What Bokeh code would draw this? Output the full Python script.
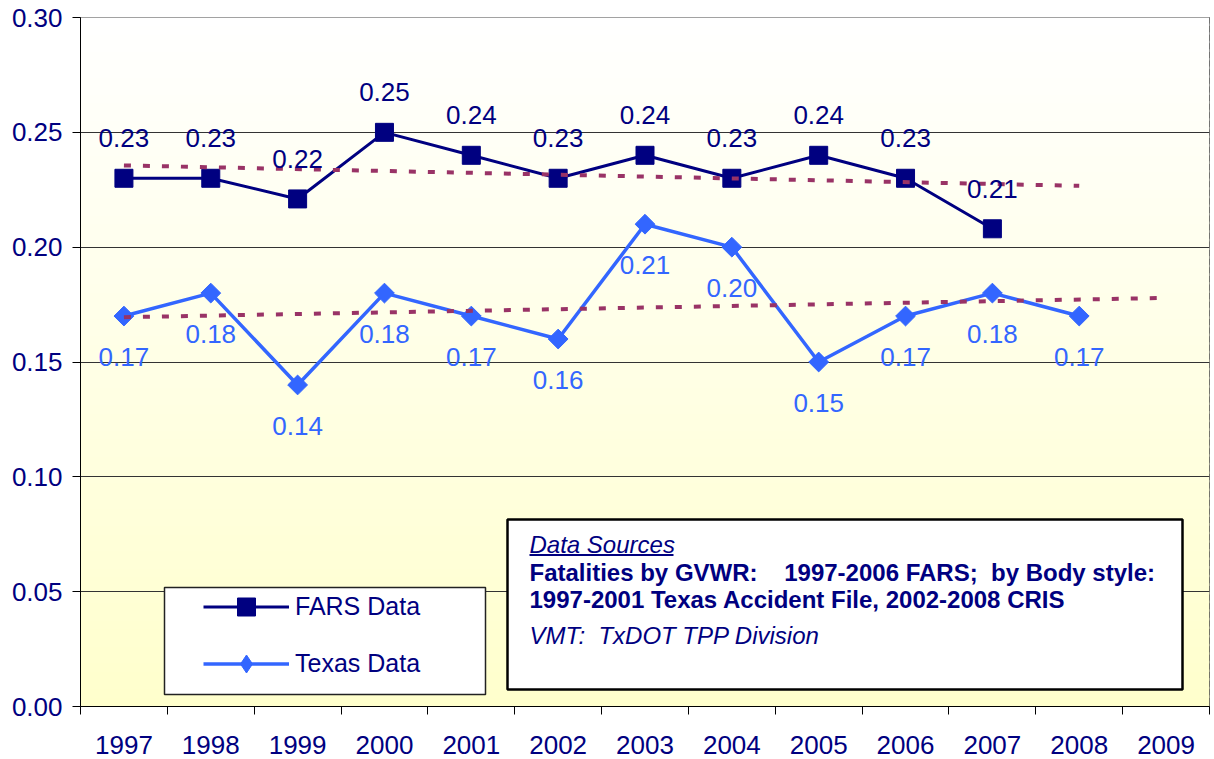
import numpy as np
from bokeh.plotting import figure
from bokeh.models import (FixedTicker, NumeralTickFormatter, BasicTickFormatter, Legend,
                          LegendItem, BoxAnnotation, Label, LabelSet, ColumnDataSource, Range1d)
from bokeh.core.properties import value
from bokeh.embed import file_html
from bokeh.resources import INLINE

# ---------------- data ----------------
years = [1997, 1998, 1999, 2000, 2001, 2002, 2003, 2004, 2005, 2006, 2007, 2008, 2009]
year_labels = [str(y) for y in years]
y_ticks = [0.00, 0.05, 0.10, 0.15, 0.20, 0.25, 0.30]

fars_years = [1997, 1998, 1999, 2000, 2001, 2002, 2003, 2004, 2005, 2006, 2007]
fars_values = [0.23, 0.23, 0.221, 0.25, 0.24, 0.23, 0.24, 0.23, 0.24, 0.23, 0.208]
fars_labels = ["0.23", "0.23", "0.22", "0.25", "0.24", "0.23", "0.24", "0.23", "0.24", "0.23", "0.21"]

texas_years = [1997, 1998, 1999, 2000, 2001, 2002, 2003, 2004, 2005, 2006, 2007, 2008]
texas_values = [0.17, 0.18, 0.14, 0.18, 0.17, 0.16, 0.21, 0.20, 0.15, 0.17, 0.18, 0.17]
texas_labels = ["0.17", "0.18", "0.14", "0.18", "0.17", "0.16", "0.21", "0.20", "0.15", "0.17", "0.18", "0.17"]

fars_trend_years = [1997, 2008]
fars_trend_values = [0.2356, 0.2267]
texas_trend_years = [1997, 2009]
texas_trend_values = [0.1695, 0.1779]

NAVY = "#000080"
BLUE = "#3366FF"
TREND = "#993366"
FONT = "Liberation Sans"

X0, X1 = 1996.5, 2009.5
Y0, Y1 = 0.0, 0.30

p = figure(width=1214, height=759, x_range=Range1d(X0, X1), y_range=Range1d(Y0, Y1),
           output_backend="svg", toolbar_location=None,
           min_border_left=80, min_border_right=5, min_border_top=17, min_border_bottom=53)
p.background_fill_color = "white"
p.border_fill_color = "white"
p.outline_line_color = "#444444"
p.outline_line_width = 1

# background gradient (white top -> light yellow bottom)
n_bands = 80
edges = np.linspace(Y0, Y1, n_bands + 1)
top_rgb = np.array([255, 255, 255])
bot_rgb = np.array([255, 255, 204])
band_colors = []
for i in range(n_bands):
    t = (i + 0.5) / n_bands
    c = bot_rgb + (top_rgb - bot_rgb) * t
    band_colors.append("#%02x%02x%02x" % tuple(int(round(v)) for v in c))
p.quad(left=X0, right=X1, bottom=edges[:-1], top=edges[1:] + (Y1 - Y0) / n_bands * 0.3,
       fill_color=band_colors, line_color=None, level="image")

# grid
p.xgrid.visible = False
p.ygrid.ticker = FixedTicker(ticks=y_ticks)
p.ygrid.grid_line_color = "#333333"
p.ygrid.grid_line_width = 1

# y axis
p.yaxis.ticker = FixedTicker(ticks=y_ticks)
p.yaxis.formatter = NumeralTickFormatter(format="0.00")
p.yaxis.major_label_text_font = FONT
p.yaxis.major_label_text_font_size = "26px"
p.yaxis.major_label_text_color = NAVY
p.yaxis.major_tick_out = 8
p.yaxis.major_tick_in = 0
p.yaxis.minor_tick_out = 0
p.yaxis.minor_tick_in = 0
p.yaxis.axis_line_color = "black"
p.yaxis.major_tick_line_color = "black"
p.yaxis.major_label_standoff = 10

# x axis: labels at category centers, ticks at boundaries (minor ticks)
p.xaxis.ticker = FixedTicker(ticks=years, minor_ticks=[y - 0.5 for y in years] + [years[-1] + 0.5])
p.xaxis.formatter = BasicTickFormatter(use_scientific=False)
p.xaxis.major_label_overrides = {y: s for y, s in zip(years, year_labels)}
p.xaxis.major_label_text_font = FONT
p.xaxis.major_label_text_font_size = "26px"
p.xaxis.major_label_text_color = NAVY
p.xaxis.major_tick_out = 0
p.xaxis.major_tick_in = 0
p.xaxis.minor_tick_out = 8
p.xaxis.minor_tick_in = 0
p.xaxis.minor_tick_line_color = "black"
p.xaxis.axis_line_color = "black"
p.xaxis.major_label_standoff = 21

# series
fars_line = p.line(fars_years, fars_values, line_color=NAVY, line_width=3)
fars_pts = p.scatter(fars_years, fars_values, marker="square", size=18,
                     fill_color=NAVY, line_color=NAVY)
texas_line = p.line(texas_years, texas_values, line_color=BLUE, line_width=3.5)
texas_pts = p.scatter(texas_years, texas_values, marker="square", angle=np.pi / 4, size=14,
                      fill_color=BLUE, line_color=BLUE)
# hidden diamond renderer used only for the legend symbol
texas_key = p.scatter(texas_years, texas_values, marker="diamond", size=20,
                      fill_color=BLUE, line_color=BLUE, visible=False)

# trend lines
p.line(fars_trend_years, fars_trend_values, line_color=TREND, line_width=4, line_dash="7 12")
p.line(texas_trend_years, texas_trend_values, line_color=TREND, line_width=4, line_dash="7 12")

# data labels
fars_src = ColumnDataSource(dict(x=fars_years, y=fars_values, t=fars_labels))
texas_src = ColumnDataSource(dict(x=texas_years, y=texas_values, t=texas_labels))
p.add_layout(LabelSet(x="x", y="y", text="t", source=fars_src, y_offset=40,
                      text_align="center", text_baseline="middle",
                      text_font=value(FONT), text_font_size=value("26px"),
                      text_color=value(NAVY)))
p.add_layout(LabelSet(x="x", y="y", text="t", source=texas_src, y_offset=-41,
                      text_align="center", text_baseline="middle",
                      text_font=value(FONT), text_font_size=value("26px"),
                      text_color=value(BLUE)))

# helpers converting reference-picture pixel positions to data units (layout only)
REF_L, REF_R, REF_T, REF_B = 80, 1209, 17, 706


def dx(px):
    return X0 + (px - REF_L) / (REF_R - REF_L) * (X1 - X0)


def dy(py):
    return Y0 + (REF_B - py) / (REF_B - REF_T) * (Y1 - Y0)


# legend frame
p.add_layout(BoxAnnotation(left=dx(164), right=dx(485), top=dy(587), bottom=dy(694),
                           fill_color="white", fill_alpha=1, line_color="#222222",
                           line_alpha=1, line_width=1.5))

# data sources box
p.add_layout(BoxAnnotation(left=dx(507), right=dx(1182), top=dy(519), bottom=dy(689),
                           fill_color="white", fill_alpha=1, line_color="black",
                           line_alpha=1, line_width=2.5))
NB = "\u00a0"
note_lines = [
    ("Data Sources", "italic", 544),
    ("Fatalities by GVWR:" + NB * 3 + " 1997-2006 FARS;" + NB + " by Body style:", "bold", 572),
    ("1997-2001 Texas Accident File, 2002-2008 CRIS", "bold", 599),
    ("VMT:" + NB + " TxDOT TPP Division", "italic", 635),
]
for txt, style, mid in note_lines:
    p.add_layout(Label(x=dx(529), y=dy(mid), text=txt, text_font=FONT,
                       text_font_size="24px", text_font_style=style, text_color=NAVY,
                       text_baseline="middle", text_align="left"))
p.add_layout(BoxAnnotation(left=dx(529), right=dx(673), top=dy(553.5), bottom=dy(555.5),
                           fill_color=NAVY, fill_alpha=1, line_alpha=0))

# legend
legend = Legend(items=[LegendItem(label="FARS Data", renderers=[fars_line, fars_pts]),
                       LegendItem(label="Texas Data", renderers=[texas_line, texas_key])],
                location=(123, 20), glyph_width=86, glyph_height=45, label_height=45,
                spacing=12, padding=0, margin=0, label_standoff=6,
                label_text_font=FONT, label_text_font_size="25px", label_text_color=NAVY,
                border_line_alpha=0, background_fill_alpha=0, inactive_fill_alpha=0)
p.add_layout(legend)

open("out.html", "w").write(file_html(p, INLINE))
